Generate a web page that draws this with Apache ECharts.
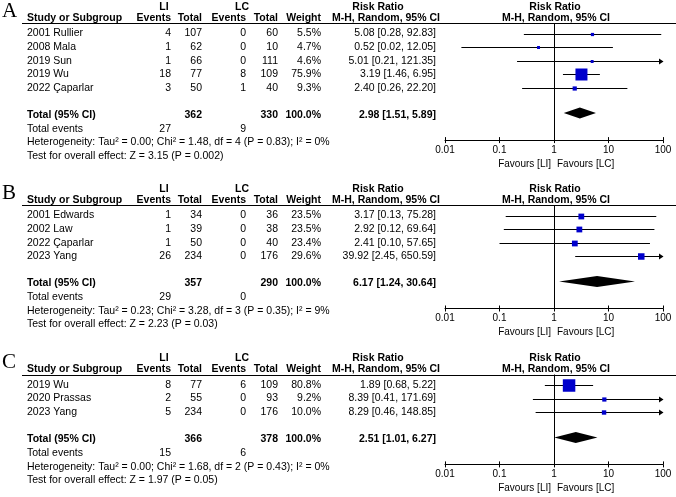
<!DOCTYPE html>
<html><head><meta charset="utf-8">
<script src="https://cdn.jsdelivr.net/npm/echarts@6/dist/echarts.min.js"></script>
<style>html,body{margin:0;padding:0;background:#fff}#c{width:676px;height:497px}</style>
</head><body><div id="c"></div>
<script>
// ---------------- DATA ----------------
const panelLetters = ['A', 'B', 'C'];
const groupNames = ['LI', 'LC'];
const tickValues = [0.01, 0.1, 1, 10, 100];
const tickLabels = ['0.01', '0.1', '1', '10', '100'];
const favoursLabels = ['Favours [LI]', 'Favours [LC]'];

// Panel A
const studiesA = ['2001 Rullier', '2008 Mala', '2019 Sun', '2019 Wu', '2022 Çaparlar'];
const liEventsA = [4, 1, 1, 18, 3];
const liTotalA = [107, 62, 66, 77, 50];
const lcEventsA = [0, 0, 0, 8, 1];
const lcTotalA = [60, 10, 111, 109, 40];
const weightA = [5.5, 4.7, 4.6, 75.9, 9.3];
const rrA = [5.08, 0.52, 5.01, 3.19, 2.40];
const lowerA = [0.28, 0.02, 0.21, 1.46, 0.26];
const upperA = [92.83, 12.05, 121.35, 6.95, 22.20];
const totalsA = [27, 362, 9, 330];          // LI events, LI total, LC events, LC total
const pooledA = [2.98, 1.51, 5.89];         // RR, lower, upper
const hetA = ['0.00', '1.48', 4, '0.83', 0]; // Tau², Chi², df, P, I²
const testA = ['3.15', '0.002'];            // Z, P

// Panel B
const studiesB = ['2001 Edwards', '2002 Law', '2022 Çaparlar', '2023 Yang'];
const liEventsB = [1, 1, 1, 26];
const liTotalB = [34, 39, 50, 234];
const lcEventsB = [0, 0, 0, 0];
const lcTotalB = [36, 38, 40, 176];
const weightB = [23.5, 23.5, 23.4, 29.6];
const rrB = [3.17, 2.92, 2.41, 39.92];
const lowerB = [0.13, 0.12, 0.10, 2.45];
const upperB = [75.28, 69.64, 57.65, 650.59];
const totalsB = [29, 357, 0, 290];
const pooledB = [6.17, 1.24, 30.64];
const hetB = ['0.23', '3.28', 3, '0.35', 9];
const testB = ['2.23', '0.03'];

// Panel C
const studiesC = ['2019 Wu', '2020 Prassas', '2023 Yang'];
const liEventsC = [8, 2, 5];
const liTotalC = [77, 55, 234];
const lcEventsC = [6, 0, 0];
const lcTotalC = [109, 93, 176];
const weightC = [80.8, 9.2, 10.0];
const rrC = [1.89, 8.39, 8.29];
const lowerC = [0.68, 0.41, 0.46];
const upperC = [5.22, 171.69, 148.85];
const totalsC = [15, 366, 6, 378];
const pooledC = [2.51, 1.01, 6.27];
const hetC = ['0.00', '1.68', 2, '0.43', 0];
const testC = ['1.97', '0.05'];

// ---------------- LAYOUT / STYLE ----------------
const FONT = '"Liberation Sans", Arial, sans-serif';
const BODY = 10.5, HEAD = 10.5;
const lineYs = [23, 205, 374.5];
const ROW = 13.6, FIRST = 10.5, AXIS_GAP = 25;
const sqMax = [12, 6.5, 12.5];
const PLOT_LEFT = 445, PLOT_W = 218;
const BLUE = '#0000cc';
const COL = { name: 27, liE: 171, liT: 202, lcE: 246, lcT: 278, w: 321, rr: 436 };

const panels = [
  [studiesA, liEventsA, liTotalA, lcEventsA, lcTotalA, weightA, rrA, lowerA, upperA, totalsA, pooledA, hetA, testA],
  [studiesB, liEventsB, liTotalB, lcEventsB, lcTotalB, weightB, rrB, lowerB, upperB, totalsB, pooledB, hetB, testB],
  [studiesC, liEventsC, liTotalC, lcEventsC, lcTotalC, weightC, rrC, lowerC, upperC, totalsC, pooledC, hetC, testC]
];

const graphics = [];
function txt(x, y, s, align, bold, size, family) {
  graphics.push({
    type: 'text', x: x, y: y, silent: true,
    style: {
      text: s, fill: '#000',
      font: (bold ? 'bold ' : '') + (size || BODY) + 'px ' + (family || FONT),
      textAlign: align || 'left', textVerticalAlign: 'middle',
      align: align || 'left', verticalAlign: 'middle'
    }
  });
}
function hline(x1, x2, y) {
  graphics.push({ type: 'line', silent: true,
    shape: { x1: x1, y1: y, x2: x2, y2: y },
    style: { stroke: '#000', lineWidth: 1 } });
}
const fmtRR = (r, l, u) => r.toFixed(2) + ' [' + l.toFixed(2) + ', ' + u.toFixed(2) + ']';

const grids = [], xAxes = [], yAxes = [], series = [];

panels.forEach((P, p) => {
  const [studies, liE, liT, lcE, lcT, wt, rr, lo, hi, tot, pooled, het, test] = P;
  const L = lineYs[p];
  const n = studies.length;
  const totalIdx = n + 1;
  const rowY = i => L + FIRST + i * ROW;
  const totalY = rowY(totalIdx);

  // headers
  txt(2, L - 12, panelLetters[p], 'left', false, 21, '"Liberation Serif", "Times New Roman", serif');
  const h1 = L - 16, h2 = L - 5;
  txt(164, h1, groupNames[0], 'center', true, HEAD);
  txt(242, h1, groupNames[1], 'center', true, HEAD);
  txt(378, h1, 'Risk Ratio', 'center', true, HEAD);
  txt(555, h1, 'Risk Ratio', 'center', true, HEAD);
  txt(COL.name, h2, 'Study or Subgroup', 'left', true, HEAD);
  txt(COL.liE, h2, 'Events', 'right', true, HEAD);
  txt(COL.liT, h2, 'Total', 'right', true, HEAD);
  txt(COL.lcE, h2, 'Events', 'right', true, HEAD);
  txt(COL.lcT, h2, 'Total', 'right', true, HEAD);
  txt(COL.w, h2, 'Weight', 'right', true, HEAD);
  txt(386, h2, 'M-H, Random, 95% CI', 'center', true, HEAD);
  txt(556, h2, 'M-H, Random, 95% CI', 'center', true, HEAD);
  hline(22, 676, Math.round(L) + 0.5);

  // study rows
  studies.forEach((s, i) => {
    const y = rowY(i);
    txt(COL.name, y, s, 'left');
    txt(COL.liE, y, String(liE[i]), 'right');
    txt(COL.liT, y, String(liT[i]), 'right');
    txt(COL.lcE, y, String(lcE[i]), 'right');
    txt(COL.lcT, y, String(lcT[i]), 'right');
    txt(COL.w, y, wt[i].toFixed(1) + '%', 'right');
    txt(COL.rr, y, fmtRR(rr[i], lo[i], hi[i]), 'right');
  });
  // total rows
  txt(COL.name, totalY, 'Total (95% CI)', 'left', true);
  txt(COL.liT, totalY, String(tot[1]), 'right', true);
  txt(COL.lcT, totalY, String(tot[3]), 'right', true);
  txt(COL.w, totalY, '100.0%', 'right', true);
  txt(COL.rr, totalY, fmtRR(pooled[0], pooled[1], pooled[2]), 'right', true);
  txt(COL.name, totalY + 14, 'Total events', 'left');
  txt(COL.liE, totalY + 14, String(tot[0]), 'right');
  txt(COL.lcE, totalY + 14, String(tot[2]), 'right');
  txt(COL.name, totalY + 27.5, 'Heterogeneity: Tau\u00B2 = ' + het[0] + '; Chi\u00B2 = ' + het[1] + ', df = ' + het[2] + ' (P = ' + het[3] + '); I\u00B2 = ' + het[4] + '%', 'left');
  txt(COL.name, totalY + 41, 'Test for overall effect: Z = ' + test[0] + ' (P = ' + test[1] + ')', 'left');

  // plot area
  const yMin = -FIRST / ROW, yMax = totalIdx + AXIS_GAP / ROW;
  const gridH = (yMax - yMin) * ROW;
  grids.push({ left: PLOT_LEFT, width: PLOT_W, top: L, height: gridH, containLabel: false });
  const axisY = L + gridH;
  txt(551, axisY + 24, favoursLabels[0], 'right', false, 10);
  txt(557, axisY + 24, favoursLabels[1], 'left', false, 10);

  const baseX = {
    type: 'log', logBase: 10, min: tickValues[0], max: tickValues[tickValues.length - 1],
    gridIndex: p, position: 'bottom', splitLine: { show: false }
  };
  xAxes.push(Object.assign({}, baseX, {
    axisLine: { show: true, onZero: false, lineStyle: { color: '#000', width: 1 } },
    axisTick: { show: true, inside: false, length: 3, lineStyle: { color: '#000' } },
    axisLabel: {
      show: true, color: '#000', fontSize: 10, fontFamily: FONT, margin: 5,
      formatter: v => tickLabels[tickValues.findIndex(t => Math.abs(Math.log10(t) - Math.log10(v)) < 1e-6)]
    }
  }));
  xAxes.push(Object.assign({}, baseX, {
    axisLine: { show: false, onZero: false },
    axisTick: { show: true, inside: true, length: 3, lineStyle: { color: '#000' } },
    axisLabel: { show: false }
  }));
  yAxes.push({ type: 'value', gridIndex: p, min: yMin, max: yMax, inverse: true, show: false });

  const maxW = Math.max(...wt);
  const sqMaxP = sqMax[p];
  series.push({
    type: 'custom', xAxisIndex: 2 * p, yAxisIndex: p, clip: false, silent: true,
    data: studies.map((s, i) => [lo[i], hi[i], rr[i], i, wt[i]]),
    renderItem: (params, api) => {
      const l = api.value(0), h = api.value(1), r = api.value(2), idx = api.value(3), w = api.value(4);
      const xMin = tickValues[0], xMax = tickValues[tickValues.length - 1];
      const p1 = api.coord([Math.max(l, xMin), idx]);
      const p2 = api.coord([Math.min(h, xMax), idx]);
      const c = api.coord([r, idx]);
      const y = Math.round(p1[1]) + 0.5;
      const children = [{
        type: 'line', shape: { x1: p1[0], y1: y, x2: p2[0], y2: y },
        style: { stroke: '#000', lineWidth: 1 }
      }];
      if (h > xMax) {
        children.push({ type: 'polygon', shape: { points: [[p2[0] - 4, y - 3], [p2[0] + 0.5, y], [p2[0] - 4, y + 3]] }, style: { fill: '#000' } });
      }
      const s = Math.max(2.5, sqMaxP * Math.sqrt(w / maxW));
      children.push({ type: 'rect', shape: { x: c[0] - s / 2, y: y - s / 2, width: s, height: s }, style: { fill: BLUE } });
      return { type: 'group', children: children };
    },
    markLine: {
      silent: true, symbol: 'none', animation: false,
      label: { show: false },
      lineStyle: { color: '#000', width: 1, type: 'solid' },
      data: [{ xAxis: 1 }]
    },
    z: 3
  });
  series.push({
    type: 'custom', xAxisIndex: 2 * p, yAxisIndex: p, clip: false, silent: true,
    data: [[pooled[1], pooled[2], pooled[0], totalIdx]],
    renderItem: (params, api) => {
      const a = api.coord([api.value(0), api.value(3)]);
      const b = api.coord([api.value(1), api.value(3)]);
      const c = api.coord([api.value(2), api.value(3)]);
      const hh = 5.5, yc = c[1] - 2;
      return { type: 'polygon', shape: { points: [[a[0], yc], [c[0], yc - hh], [b[0], yc], [c[0], yc + hh]] }, style: { fill: '#000' } };
    },
    z: 4
  });
});

const chart = echarts.init(document.getElementById('c'), null, { renderer: 'canvas' });
chart.setOption({
  animation: false,
  backgroundColor: '#fff',
  grid: grids, xAxis: xAxes, yAxis: yAxes, series: series,
  graphic: { elements: graphics }
});
</script></body></html>
